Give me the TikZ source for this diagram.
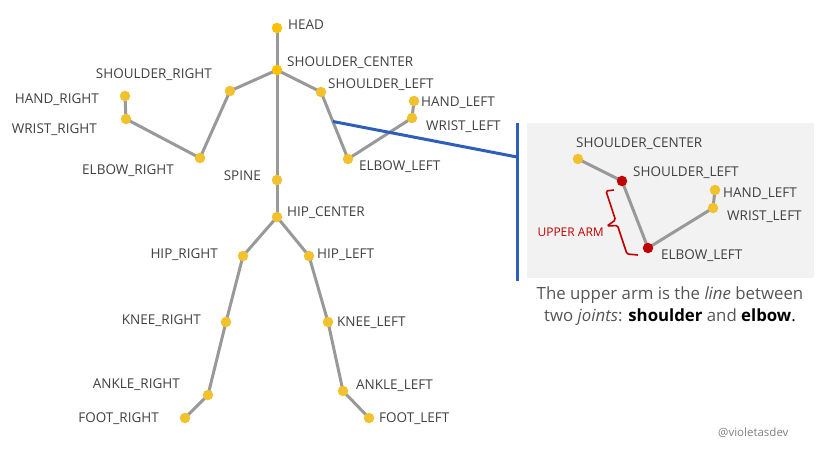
\documentclass[tikz,border=0pt]{standalone}
\usepackage{fontspec}
\setmainfont{Open Sans}
\usetikzlibrary{calc}
\pgfdeclarelayer{panel}
\pgfdeclarelayer{bg}
\pgfsetlayers{panel,bg,main}
\definecolor{bonec}{HTML}{999999}
\definecolor{jointA}{HTML}{FFC000}
\definecolor{jointB}{HTML}{F2C12E}
\definecolor{jointR}{HTML}{C00000}
\definecolor{blueL}{HTML}{2E5FB8}
\definecolor{panelc}{HTML}{F2F2F2}
\definecolor{lblc}{HTML}{404040}
\definecolor{capc}{HTML}{555555}
\begin{document}
\begin{tikzpicture}[x=1pt,y=-1pt,
 joint/.style={circle,fill=jointB,minimum size=10.5pt,inner sep=0pt},
 jointhi/.style={joint,fill=jointA},
 jointred/.style={joint,fill=jointR},
 bone/.style={draw=bonec,line width=3pt},
 lab/.style={font=\fontsize{13.5}{13.5}\selectfont,text=lblc,inner sep=0pt,text height=9.6pt,text depth=0pt},
 labw/.style={lab,anchor=west},
 labe/.style={lab,anchor=east},
 blueln/.style={draw=blueL,line width=3pt},
 ]
\useasboundingbox (0,0) rectangle (828,462);

% panel
\begin{pgfonlayer}{panel}
\fill[panelc] (527,123) rectangle (814,278);
\end{pgfonlayer}

% main skeleton joints
\node[jointhi] (HEAD) at (277,28) {};
\node[jointhi] (SC) at (277,70) {};
\node[joint] (SR) at (230,91) {};
\node[joint] (SL) at (321,92) {};
\node[joint] (ER) at (200,158) {};
\node[joint] (WR) at (126,119) {};
\node[joint] (HR) at (125,96) {};
\node[joint] (EL) at (348,159) {};
\node[joint] (WL) at (412,118) {};
\node[joint] (HL) at (414,101) {};
\node[joint] (SP) at (277,180) {};
\node[joint] (HC) at (277,217) {};
\node[joint] (HIR) at (243,256) {};
\node[joint] (HIL) at (309,256) {};
\node[joint] (KR) at (226,322) {};
\node[joint] (KL) at (328,322) {};
\node[joint] (AR) at (208,395) {};
\node[joint] (AL) at (343,391) {};
\node[joint] (FR) at (185,418) {};
\node[joint] (FL) at (369,418) {};

\begin{pgfonlayer}{bg}
\foreach \a/\b in {HEAD/SC,SC/SR,SC/SL,SC/SP,SR/ER,ER/WR,WR/HR,SL/EL,EL/WL,WL/HL,SP/HC,HC/HIR,HC/HIL,HIR/KR,KR/AR,AR/FR,HIL/KL,KL/AL,AL/FL}
  \draw[bone] (\a.center) -- (\b.center);
\end{pgfonlayer}

% labels main
\node[labw] (lHEAD) at (288,25) {HEAD};
\node[labw] (lSC) at (287,62) {SHOULDER\_CENTER};
\node[labw] (lSL) at (328,84) {SHOULDER\_LEFT};
\node[labw] (lHL) at (421,102) {HAND\_LEFT};
\node[labw] (lWL) at (426,126) {WRIST\_LEFT};
\node[labw] (lEL) at (359,166) {ELBOW\_LEFT};
\node[labw] (lHC) at (287,212) {HIP\_CENTER};
\node[labw] (lHIL) at (317,254) {HIP\_LEFT};
\node[labw] (lKL) at (337,322) {KNEE\_LEFT};
\node[labw] (lAL) at (356,385) {ANKLE\_LEFT};
\node[labw] (lFL) at (379,418) {FOOT\_LEFT};
\node[labe] (lSR) at (212,74) {SHOULDER\_RIGHT};
\node[labe] (lHR) at (99,99) {HAND\_RIGHT};
\node[labe] (lWR) at (97,129) {WRIST\_RIGHT};
\node[labe] (lER) at (174,170) {ELBOW\_RIGHT};
\node[labe] (lSP) at (261,176) {SPINE};
\node[labe] (lHIR) at (218,254) {HIP\_RIGHT};
\node[labe] (lKR) at (201,320) {KNEE\_RIGHT};
\node[labe] (lAR) at (180,384) {ANKLE\_RIGHT};
\node[labe] (lFR) at (159,418) {FOOT\_RIGHT};

% connector to inset
\coordinate (bstart) at ($(SL.center)!0.44!(EL.center)$);
\coordinate (btop) at (517,123);
\coordinate (bbot) at (517,281);
\coordinate (bmid) at (517,157);
\draw[blueln] (bstart) -- (bmid);
\draw[blueln] (btop) -- (bbot);

% inset skeleton
\node[joint] (iSC) at (578,159) {};
\node[jointred] (iSL) at (622,181) {};
\node[jointred] (iEL) at (648,248) {};
\node[joint] (iWL) at (713,208) {};
\node[joint] (iHL) at (715,190) {};
\begin{pgfonlayer}{bg}
\foreach \a/\b in {iSC/iSL,iSL/iEL,iEL/iWL,iWL/iHL}
  \draw[bone] (\a.center) -- (\b.center);
\end{pgfonlayer}
\node[labw] (liSC) at (576,143) {SHOULDER\_CENTER};
\node[labw] (liSL) at (633,172) {SHOULDER\_LEFT};
\node[labw] (liHL) at (723,193) {HAND\_LEFT};
\node[labw] (liWL) at (727,216) {WRIST\_LEFT};
\node[labw] (liEL) at (661,255) {ELBOW\_LEFT};

% brace
\draw[draw=jointR,line width=1.6pt,rounded corners=1.5pt]
  (614,190) -- (606,191) -- (615.5,220) -- (607,226) -- (617.5,225.5) -- (627,254) -- (638,255);
\node[anchor=east,inner sep=0pt,font=\fontsize{12}{12}\selectfont,text=jointR] (uarm) at (604,232) {UPPER ARM};

% caption
\node[align=center,inner sep=0pt,font=\fontsize{16.8}{21.5}\selectfont,text=capc] (cap) at (670,306)
 {The upper arm is the \textit{line} between\\ two \textit{joints}: {\color{black}\textbf{shoulder}} and {\color{black}\textbf{elbow}.}};

\node[anchor=west,inner sep=0pt,font=\fontsize{11.5}{11.5}\selectfont,text=gray] (credit) at (718,433) {@violetasdev};
\end{tikzpicture}
\end{document}
